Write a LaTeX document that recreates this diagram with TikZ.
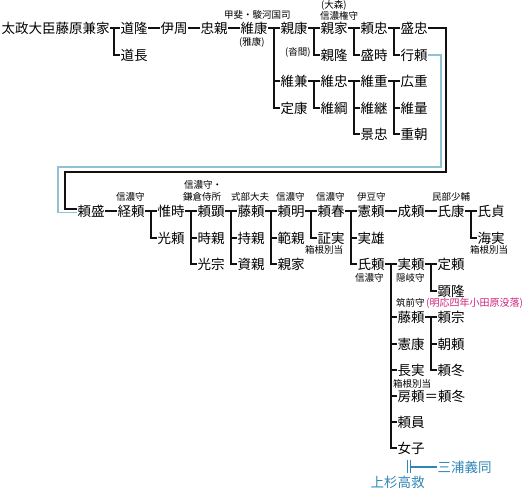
\documentclass[tikz,border=0pt]{standalone}
\usepackage{fontspec}
\newfontfamily\jp{Noto Sans CJK JP}
\definecolor{Ink}{HTML}{111111}
\definecolor{Pale}{HTML}{8DC3D2}
\definecolor{Sea}{HTML}{2F86B6}
\definecolor{Rose}{HTML}{D0217A}

\begin{document}
\begin{tikzpicture}[x=1pt,y=-1pt,
    person/.style={anchor=west,inner xsep=0.5pt,inner ysep=0pt,font=\jp\fontsize{13.5}{15}\selectfont},
    note/.style={anchor=west,inner sep=0pt,font=\jp\fontsize{9.5}{11}\selectfont},
    tie/.style={line width=1.8pt,draw=Ink},
    adopt/.style={line width=1.8pt,draw=Pale},
    wed/.style={line width=1pt,draw=Sea,double=white,double distance=2.5pt},
    bluetie/.style={line width=1.6pt,draw=Sea}
  ]
    \useasboundingbox (0,0) rectangle (525,491);
    % upper line
    \node[person] (kaneie) at (1,28) {太政大臣藤原兼家};
    \node[person] (michitaka) at (120,28) {道隆};
    \node[person] (michinaga) at (120,55) {道長};
    \node[person] (korechika) at (160,28) {伊周};
    \node[person] (tadachika) at (200,28) {忠親};
    \node[person] (koreyasu) at (240,28) {維康};
    \node[person] (chikayasu) at (280,28) {親康};
    \node[person] (korekane) at (280,81) {維兼};
    \node[person] (sadayasu) at (280,108) {定康};
    \node[person] (chikaie) at (320,28) {親家};
    \node[person] (chikataka) at (320,55) {親隆};
    \node[person] (koretada) at (320,81) {維忠};
    \node[person] (koretsuna) at (320,108) {維綱};
    \node[person] (yoritada) at (360,28) {頼忠};
    \node[person] (moritoki) at (360,55) {盛時};
    \node[person] (koreshige) at (360,81) {維重};
    \node[person] (koretsugu) at (360,108) {維継};
    \node[person] (kagetada) at (360,134) {景忠};
    \node[person] (moritada) at (400,28) {盛忠};
    \node[person] (yukiyori) at (400,55) {行頼};
    \node[person] (hiroshige) at (400,81) {広重};
    \node[person] (korekazu) at (400,108) {維量};
    \node[person] (shigetomo) at (400,134) {重朝};
    \node[note] (kaisuruga) at (224,15) {甲斐・駿河国司};
    \node[note] (masayasu) at (239,42) {(雅康)};
    \node[note] (omori) at (321,5) {(大森)};
    \node[note] (gonnokami) at (320,16) {信濃権守};
    \node[note] (kutsuma) at (285,52) {(沓間)};
    % lower line
    \node[person] (yorimori) at (77,211) {頼盛};
    \node[person] (tsuneyori) at (117,211) {経頼};
    \node[person] (koretoki) at (157,211) {惟時};
    \node[person] (mitsuyori) at (157,238) {光頼};
    \node[person] (yoriaki) at (197,211) {頼顕};
    \node[person] (tokichika) at (197,238) {時親};
    \node[person] (mitsumune) at (197,264) {光宗};
    \node[person] (fujiyori) at (237,211) {藤頼};
    \node[person] (mochichika) at (237,238) {持親};
    \node[person] (sukechika) at (237,264) {資親};
    \node[person] (yoriakira) at (277,211) {頼明};
    \node[person] (norichika) at (277,238) {範親};
    \node[person] (chikaieB) at (277,264) {親家};
    \node[person] (yoriharu) at (317,211) {頼春};
    \node[person] (shojitsu) at (317,238) {証実};
    \node[person] (noriyori) at (357,211) {憲頼};
    \node[person] (saneo) at (357,238) {実雄};
    \node[person] (ujiyori) at (357,264) {氏頼};
    \node[person] (nariyori) at (397,211) {成頼};
    \node[person] (ujiyasu) at (437,211) {氏康};
    \node[person] (ujisada) at (477,211) {氏貞};
    \node[person] (kaijitsu) at (477,238) {海実};
    \node[person] (saneyori) at (397,264) {実頼};
    \node[person] (sadayori) at (437,264) {定頼};
    \node[person] (akitaka) at (437,291) {顕隆};
    \node[person] (fujiyoriB) at (397,317) {藤頼};
    \node[person] (noriyasu) at (397,344) {憲康};
    \node[person] (nagasane) at (397,370) {長実};
    \node[person] (fusayori) at (397,396) {房頼＝頼冬};
    \node[person] (yorikazu) at (397,422) {頼員};
    \node[person] (joshi) at (397,448) {女子};
    \node[person] (yorimune) at (437,317) {頼宗};
    \node[person] (tomoyori) at (437,344) {朝頼};
    \node[person] (yorifuyu) at (437,370) {頼冬};
    \node[note] (tsunenote) at (116,197) {信濃守};
    \node[note] (akinoteA) at (184,185) {信濃守・};
    \node[note] (akinoteB) at (183,197) {鎌倉侍所};
    \node[note] (fujinote) at (231,197) {式部大夫};
    \node[note] (akiranote) at (276,197) {信濃守};
    \node[note] (harunote) at (316,197) {信濃守};
    \node[note] (shonote) at (305,250) {箱根別当};
    \node[note] (norinote) at (357,197) {伊豆守};
    \node[note] (ujinote) at (355,278) {信濃守};
    \node[note] (yasunote) at (432,197) {民部少輔};
    \node[note] (kainote) at (470,250) {箱根別当};
    \node[note] (sanenote) at (396,278) {隠岐守};
    \node[note] (chikuzen) at (396,303) {筑前守};
    \node[note,text=Rose,font=\jp\fontsize{10}{11}\selectfont] (odawara) at (426,303) {(明応四年小田原没落)};
    \node[note] (naganote) at (393,384) {箱根別当};
    \node[person,text=Sea] (uesugi) at (370,482) {上杉高救};
    \node[person,text=Sea] (miura) at (437,467) {三浦義同};
    % upper ties
    \draw[tie] (kaneie) -- (michitaka); \draw[tie] ([xshift=-6pt]michitaka.west) |- (michinaga.west);
    \draw[tie] (michitaka) -- (korechika); \draw[tie] (korechika) -- (tadachika); \draw[tie] (tadachika) -- (koreyasu);
    \draw[tie] (koreyasu) -- (chikayasu); \draw[tie] ([xshift=-6pt]chikayasu.west) |- (sadayasu.west); \draw[tie] (korekane.west) -- ++(-6pt,0);
    \draw[tie] (chikayasu) -- (chikaie); \draw[tie] ([xshift=-6pt]chikaie.west) |- (chikataka.west);
    \draw[tie] (chikaie) -- (yoritada); \draw[tie] ([xshift=-6pt]yoritada.west) |- (moritoki.west);
    \draw[tie] (yoritada) -- (moritada); \draw[tie] ([xshift=-6pt]moritada.west) |- (yukiyori.west);
    \draw[tie] (korekane) -- (koretada); \draw[tie] ([xshift=-6pt]koretada.west) |- (koretsuna.west);
    \draw[tie] (koretada) -- (koreshige); \draw[tie] ([xshift=-6pt]koreshige.west) |- (kagetada.west); \draw[tie] (koretsugu.west) -- ++(-6pt,0);
    \draw[tie] (koreshige) -- (hiroshige); \draw[tie] ([xshift=-6pt]hiroshige.west) |- (shigetomo.west); \draw[tie] (korekazu.west) -- ++(-6pt,0);
    % turn to the lower line
    \coordinate (turnR) at (446,172); \coordinate (turnL) at (65,172);
    \coordinate (bendR) at (441,167); \coordinate (bendL) at (58,167);
    \draw[adopt] (yukiyori.east) -| (bendR) -- (bendL) |- ([yshift=-1.5pt]yorimori.west);
    \draw[tie] (moritada.east) -| (turnR) -- (turnL) |- ([yshift=2pt]yorimori.west);
    % lower ties
    \draw[tie] (yorimori) -- (tsuneyori);
    \draw[tie] (tsuneyori) -- (koretoki); \draw[tie] ([xshift=-6pt]koretoki.west) |- (mitsuyori.west);
    \draw[tie] (koretoki) -- (yoriaki); \draw[tie] ([xshift=-6pt]yoriaki.west) |- (mitsumune.west); \draw[tie] (tokichika.west) -- ++(-6pt,0);
    \draw[tie] (yoriaki) -- (fujiyori); \draw[tie] ([xshift=-6pt]fujiyori.west) |- (sukechika.west); \draw[tie] (mochichika.west) -- ++(-6pt,0);
    \draw[tie] (fujiyori) -- (yoriakira); \draw[tie] ([xshift=-6pt]yoriakira.west) |- (chikaieB.west); \draw[tie] (norichika.west) -- ++(-6pt,0);
    \draw[tie] (yoriakira) -- (yoriharu); \draw[tie] ([xshift=-6pt]yoriharu.west) |- (shojitsu.west);
    \draw[tie] (yoriharu) -- (noriyori); \draw[tie] ([xshift=-6pt]noriyori.west) |- (ujiyori.west); \draw[tie] (saneo.west) -- ++(-6pt,0);
    \draw[tie] (noriyori) -- (nariyori); \draw[tie] (nariyori) -- (ujiyasu);
    \draw[tie] (ujiyasu) -- (ujisada); \draw[tie] ([xshift=-6pt]ujisada.west) |- (kaijitsu.west);
    \draw[tie] (ujiyori) -- (saneyori); \draw[tie] ([xshift=-6pt]saneyori.west) |- (joshi.west);
    \draw[tie] (fujiyoriB.west) -- ++(-6pt,0); \draw[tie] (noriyasu.west) -- ++(-6pt,0); \draw[tie] (nagasane.west) -- ++(-6pt,0);
    \draw[tie] (fusayori.west) -- ++(-6pt,0); \draw[tie] (yorikazu.west) -- ++(-6pt,0);
    \draw[tie] (saneyori) -- (sadayori); \draw[tie] ([xshift=-6pt]sadayori.west) |- (akitaka.west);
    \draw[tie] (fujiyoriB) -- (yorimune); \draw[tie] ([xshift=-6pt]yorimune.west) |- (yorifuyu.west); \draw[tie] (tomoyori.west) -- ++(-6pt,0);
    % marriage and heir
    \coordinate (wedTop) at (409,460); \coordinate (wedBot) at (409,473); \coordinate (wedMid) at (411,467);
    \draw[wed] (wedTop) -- (wedBot);
    \draw[bluetie] (wedMid) -- (miura);
  \end{tikzpicture}
\end{document}
